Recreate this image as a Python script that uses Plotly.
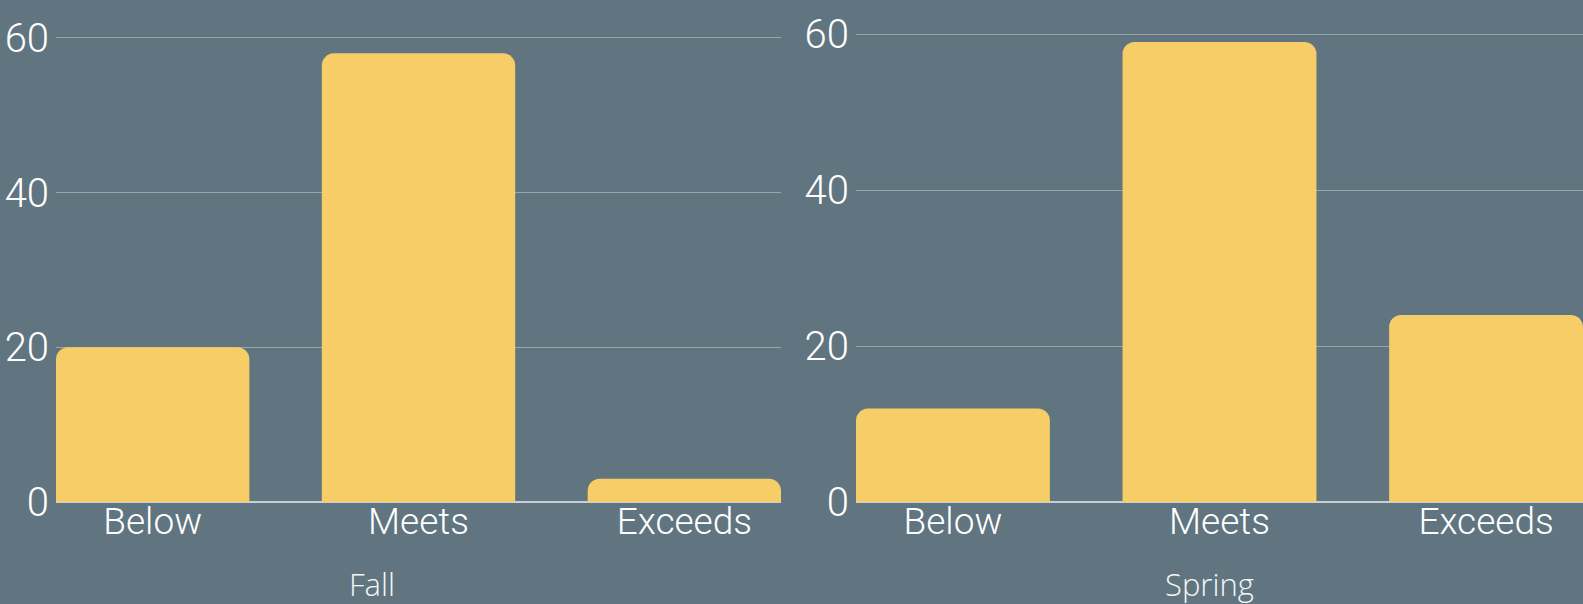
import plotly.graph_objects as go

categories = ["Below", "Meets", "Exceeds"]
fall_values = [20, 58, 3]
spring_values = [12, 59, 24]
panel_titles = ["Fall", "Spring"]
y_ticks = [0, 20, 40, 60]

BG = "#607580"
BAR = "#F6CD67"
GRID = "rgba(255,255,255,0.35)"
AXIS = "#C9CFD3"
XTICK_FONT = dict(family="Roboto, 'DejaVu Sans Condensed', sans-serif", size=37, color="white", weight=300)
YTICK_FONT = dict(family="Roboto, 'DejaVu Sans Condensed', sans-serif", size=40, color="white", weight=300)
TITLE_FONT = dict(family="'Open Sans', sans-serif", size=31, color="#F4F6F7", weight=300)

fig = go.Figure()
fig.add_trace(go.Bar(x=categories, y=fall_values, marker=dict(color=BAR, line=dict(width=0)),
                     xaxis="x", yaxis="y", showlegend=False, hoverinfo="x+y"))
fig.add_trace(go.Bar(x=categories, y=spring_values, marker=dict(color=BAR, line=dict(width=0)),
                     xaxis="x2", yaxis="y2", showlegend=False, hoverinfo="x+y"))

xcommon = dict(type="category", range=[-0.3636, 2.3636], showgrid=False, showline=False,
               zeroline=False, ticks="", tickfont=XTICK_FONT, ticklabelstandoff=-6,
               fixedrange=True)
ycommon = dict(tickvals=y_ticks, showgrid=True, gridcolor=GRID, gridwidth=1.2,
               zeroline=True, zerolinecolor=AXIS, zerolinewidth=2, showline=False,
               ticks="", tickfont=YTICK_FONT, ticklabelstandoff=6, fixedrange=True)

fig.update_layout(
    width=1583, height=604,
    margin=dict(l=56, r=0, t=0, b=102),
    paper_bgcolor=BG, plot_bgcolor=BG,
    bargap=0.2727, barcornerradius=12,
    xaxis=dict(domain=[0, 0.4748], anchor="y", **xcommon),
    xaxis2=dict(domain=[0.5239, 1], anchor="y2", **xcommon),
    yaxis=dict(domain=[0, 1], anchor="x", range=[0, 64.9], **ycommon),
    yaxis2=dict(domain=[0, 1], anchor="x2", range=[0, 64.4], **ycommon),
    annotations=[
        dict(text=panel_titles[0], xref="paper", yref="paper", x=0.2067, y=-0.163,
             xanchor="center", yanchor="middle", showarrow=False, font=TITLE_FONT),
        dict(text=panel_titles[1], xref="paper", yref="paper", x=0.7554, y=-0.163,
             xanchor="center", yanchor="middle", showarrow=False, font=TITLE_FONT),
    ],
)

fig.write_html("out.html")
